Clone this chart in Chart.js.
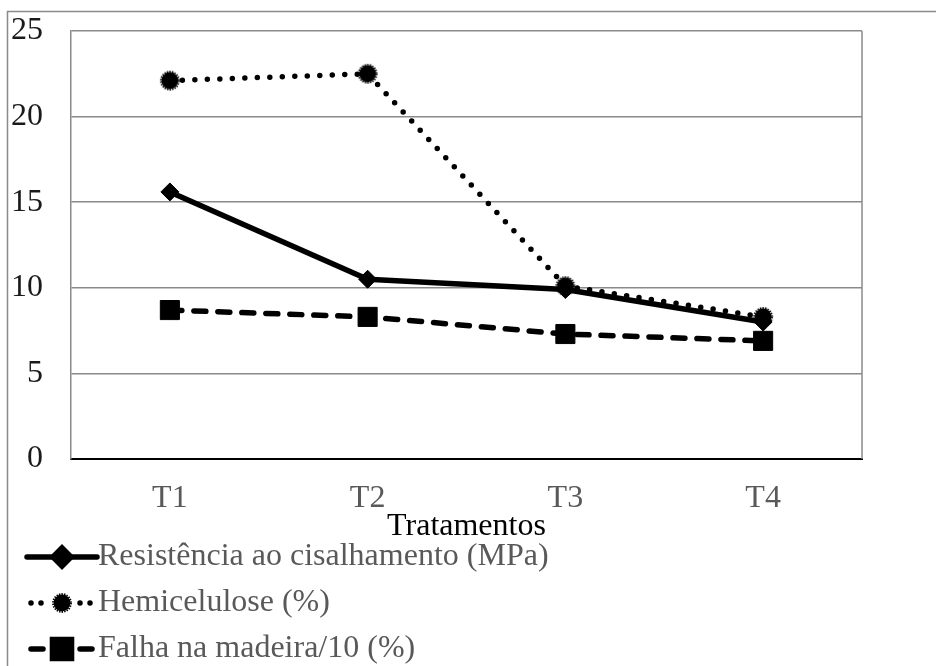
<!DOCTYPE html>
<html>
<head>
<meta charset="utf-8">
<script src="https://cdn.jsdelivr.net/npm/chart.js@4/dist/chart.umd.min.js"></script>
<style>
  html, body { margin: 0; padding: 0; background: #fff; }
  canvas { display: block; }
</style>
</head>
<body>
<canvas id="chart" width="936" height="666"></canvas>
<script>
// Data
const categories = ['T1', 'T2', 'T3', 'T4'];
const resistencia = [15.6, 10.5, 9.9, 8.0];
const hemicelulose = [22.1, 22.5, 10.1, 8.3];
const falhaMadeira = [8.7, 8.3, 7.3, 6.9];
const seriesNames = ['Resistência ao cisalhamento (MPa)', 'Hemicelulose (%)', 'Falha na madeira/10 (%)'];
const axisTitle = 'Tratamentos';
const yMin = 0, yMax = 25, yStep = 5;

const FONT = '"Liberation Serif", "Times New Roman", serif';

// Round marker with a slightly ragged outline
function makeRaggedDot(r) {
  const size = Math.ceil(2 * r + 6);
  const cv = document.createElement('canvas');
  cv.width = cv.height = size;
  const g = cv.getContext('2d');
  const c = size / 2;
  g.fillStyle = '#000';
  g.beginPath(); g.arc(c, c, r - 0.6, 0, Math.PI * 2); g.fill();
  g.strokeStyle = '#000';
  g.lineWidth = 1.8;
  g.setLineDash([1.4, 1.2]);
  g.beginPath(); g.arc(c, c, r, 0, Math.PI * 2); g.stroke();
  return cv;
}
const raggedDot = makeRaggedDot(9);

// Outer frame and plot-area edges
const framePlugin = {
  id: 'frame',
  beforeDatasetsDraw(chart) {
    const { ctx, chartArea } = chart;
    ctx.save();
    ctx.strokeStyle = '#8a8a8a';
    ctx.lineWidth = 1.5;
    ctx.beginPath();
    ctx.moveTo(7.5, 666);
    ctx.lineTo(7.5, 11.5);
    ctx.lineTo(936, 11.5);
    ctx.stroke();
    ctx.beginPath();
    ctx.moveTo(chartArea.right, chartArea.top);
    ctx.lineTo(chartArea.right, chartArea.bottom);
    ctx.stroke();
    ctx.restore();
  }
};

// Vertical legend under the axis title, built from each dataset's own style
const legendPlugin = {
  id: 'stackedLegend',
  afterDraw(chart) {
    const ctx = chart.ctx;
    const rowTop = 557, rowGap = 46;
    const symLeft = 27, symRight = 97, symMid = 62, textX = 98;
    chart.data.datasets.forEach((ds, i) => {
      const y = rowTop + i * rowGap;
      ctx.save();
      ctx.strokeStyle = ds.borderColor;
      ctx.lineWidth = ds.borderWidth;
      ctx.lineCap = ds.borderCapStyle || 'butt';
      if (ds.borderDash && ds.borderDash.length) {
        ctx.setLineDash(ds.legendDash || ds.borderDash);
        ctx.beginPath(); ctx.moveTo(symLeft + 4, y); ctx.lineTo(symLeft + 16, y); ctx.stroke();
        ctx.beginPath(); ctx.moveTo(symRight - 17, y); ctx.lineTo(symRight - 5, y); ctx.stroke();
      } else {
        ctx.beginPath(); ctx.moveTo(symLeft, y); ctx.lineTo(symRight, y); ctx.stroke();
      }
      ctx.setLineDash([]);
      ctx.fillStyle = ds.pointBackgroundColor;
      ctx.strokeStyle = ds.pointBorderColor;
      Chart.helpers.drawPoint(ctx, {
        pointStyle: ds.pointStyle,
        radius: ds.pointRadius,
        rotation: 0,
        borderWidth: ds.pointBorderWidth
      }, symMid, y);
      ctx.fillStyle = '#595959';
      ctx.font = '32px ' + FONT;
      ctx.textAlign = 'left';
      ctx.textBaseline = 'middle';
      ctx.fillText(ds.label, textX, y);
      ctx.restore();
    });
  }
};

new Chart(document.getElementById('chart'), {
  type: 'line',
  data: {
    labels: categories,
    datasets: [
      {
        label: seriesNames[0],
        data: resistencia,
        borderColor: '#000',
        borderWidth: 5.5,
        borderCapStyle: 'round',
        borderJoinStyle: 'round',
        pointStyle: 'rectRot',
        pointRadius: 9,
        pointBorderWidth: 1,
        pointBackgroundColor: '#000',
        pointBorderColor: '#000',
        tension: 0,
        fill: false
      },
      {
        label: seriesNames[1],
        data: hemicelulose,
        borderColor: '#000',
        borderWidth: 5.5,
        borderCapStyle: 'round',
        borderDash: [0, 12.5],
        legendDash: [0, 10],
        pointStyle: raggedDot,
        pointRadius: 9,
        pointBorderWidth: 0,
        pointBackgroundColor: '#000',
        pointBorderColor: '#000',
        tension: 0,
        fill: false
      },
      {
        label: seriesNames[2],
        data: falhaMadeira,
        borderColor: '#000',
        borderWidth: 5.5,
        borderCapStyle: 'round',
        borderDash: [12, 12],
        pointStyle: 'rect',
        pointRadius: 13.5,
        pointBorderWidth: 1,
        pointBackgroundColor: '#000',
        pointBorderColor: '#000',
        tension: 0,
        fill: false
      }
    ]
  },
  options: {
    responsive: false,
    animation: false,
    devicePixelRatio: 1,
    layout: { padding: { left: 0, top: 31, right: 74, bottom: 123 } },
    plugins: {
      legend: { display: false },
      title: { display: false },
      tooltip: { enabled: false }
    },
    scales: {
      x: {
        type: 'category',
        offset: true,
        grid: { display: false, drawTicks: false },
        border: { display: true, color: '#000', width: 2 },
        ticks: {
          color: '#595959',
          padding: 24,
          font: { family: FONT, size: 32, lineHeight: 1 }
        },
        title: {
          display: true,
          text: axisTitle,
          color: '#000',
          padding: { top: 0, bottom: 0 },
          font: { family: FONT, size: 32, lineHeight: 1 }
        },
        afterFit(scale) { scale.height = 84; }
      },
      y: {
        min: yMin,
        max: yMax,
        ticks: {
          stepSize: yStep,
          color: '#1a1a1a',
          padding: 28,
          font: { family: FONT, size: 32, lineHeight: 1 }
        },
        grid: { color: '#8a8a8a', lineWidth: 1.5, drawTicks: false },
        border: { display: true, color: '#8a8a8a', width: 1.5 },
        afterFit(scale) {
          scale.width = 71;
          scale.paddingTop = 0;
          scale.paddingBottom = 0;
        }
      }
    }
  },
  plugins: [framePlugin, legendPlugin]
});
</script>
</body>
</html>
